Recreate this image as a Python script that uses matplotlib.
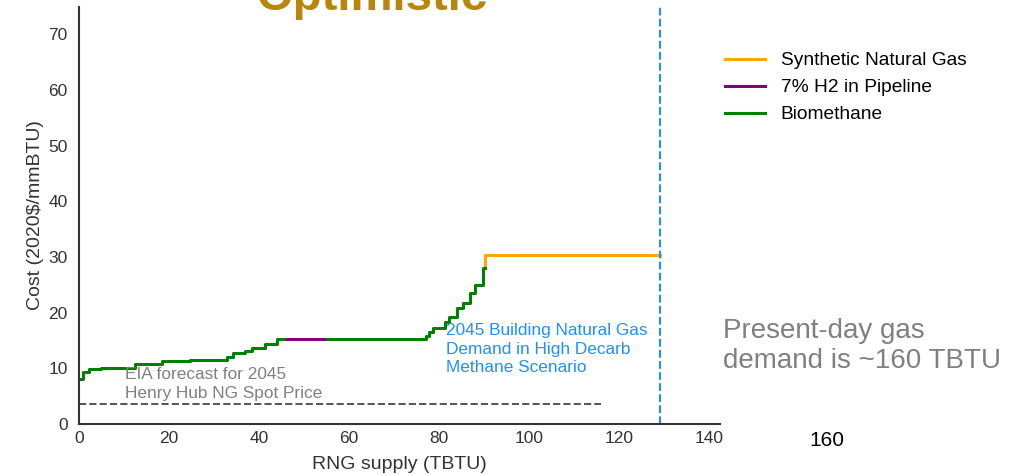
import matplotlib
matplotlib.use("Agg")
import matplotlib.pyplot as plt

plt.rcParams['font.family'] = ['Liberation Sans', 'DejaVu Sans']

# biomethane supply curve, part 1 (step breakpoints)
bio1_x = [0, 1.0, 2.3, 5.0, 12.4, 18.4, 24.7, 32.8, 34.3, 36.9, 38.4, 41.3, 43.9, 45.5]
bio1_y = [8.1, 9.3, 9.9, 10.1, 10.8, 11.3, 11.5, 12.0, 12.7, 13.2, 13.6, 14.3, 15.3, 15.3]
# 7% H2 blend segment
h2_x = [45.5, 55.0]
h2_y = [15.3, 15.3]
# biomethane part 2
bio2_x = [55.0, 77.2, 77.8, 78.7, 81.3, 82.2, 83.9, 85.4, 86.9, 88.0, 89.8, 90.2]
bio2_y = [15.3, 15.9, 16.5, 17.2, 18.3, 19.3, 20.9, 21.7, 23.6, 25.0, 28.0, 28.0]
# synthetic natural gas
sng_x = [90.2, 90.2, 129.0]
sng_y = [28.0, 30.4, 30.4]

henry_hub = 3.6
henry_hub_end = 116
demand_2045 = 129

fig = plt.figure(figsize=(10.28, 4.75), dpi=100)
ax = fig.add_axes([0.0768, 0.1074, 0.6236, 0.8786])

ax.plot(sng_x, sng_y, color='orange', lw=2.2, label='Synthetic Natural Gas')
ax.step(h2_x, h2_y, where='post', color='purple', lw=2.2, label='7% H2 in Pipeline')
ax.step(bio1_x, bio1_y, where='post', color='green', lw=2.2, label='Biomethane')
ax.step(bio2_x, bio2_y, where='post', color='green', lw=2.2)

ax.hlines(henry_hub, 0, henry_hub_end, colors='#555555', linestyles='--', lw=1.4)
ax.axvline(demand_2045, color='#1E90FF', ls='--', lw=1.5)

ax.text(10.2, 10.2, 'EIA forecast for 2045\nHenry Hub NG Spot Price',
        color='#808080', fontsize=12.4, va='top', ha='left', linespacing=1.3)
ax.text(81.5, 18.1, '2045 Building Natural Gas\nDemand in High Decarb\nMethane Scenario',
        color='#1E90FF', fontsize=12.4, va='top', ha='left', linespacing=1.3)

ax.set_xlim(0, 142.4)
ax.set_ylim(0, 75)
ax.set_xticks([0, 20, 40, 60, 80, 100, 120, 140])
ax.set_yticks([0, 10, 20, 30, 40, 50, 60, 70])
ax.tick_params(length=0, labelsize=12.5, labelcolor='#333333')
ax.tick_params(axis='y', pad=8)
ax.tick_params(axis='x', pad=5)
for s in ['top', 'right']:
    ax.spines[s].set_visible(False)
for s in ['left', 'bottom']:
    ax.spines[s].set_color('#333333')
    ax.spines[s].set_linewidth(1.5)

ax.set_xlabel('RNG supply (TBTU)', fontsize=14, color='#333333', labelpad=7)
ax.set_ylabel('Cost (2020$/mmBTU)', fontsize=14, color='#333333', labelpad=3)

handles, labels = ax.get_legend_handles_labels()
fig.legend(handles, labels, loc='upper left', bbox_to_anchor=(725 / 1028, 1 - 52 / 475),
           frameon=False, fontsize=13.8, handlelength=2.1, handletextpad=0.8,
           labelspacing=0.5, borderpad=0, borderaxespad=0)

fig.text(372 / 1028, 1 - 10 / 475, 'Optimistic', fontsize=34, fontweight='bold',
         color='#B8860B', ha='center', va='baseline')
fig.text(723 / 1028, 1 - 346 / 475, 'Present-day gas\ndemand is ~160 TBTU',
         fontsize=20, color='#808080', ha='left', va='center', linespacing=1.25)
fig.text(827 / 1028, 1 - 440 / 475, '160', fontsize=15, color='black',
         ha='center', va='center')

fig.savefig('out.png', dpi=100)
